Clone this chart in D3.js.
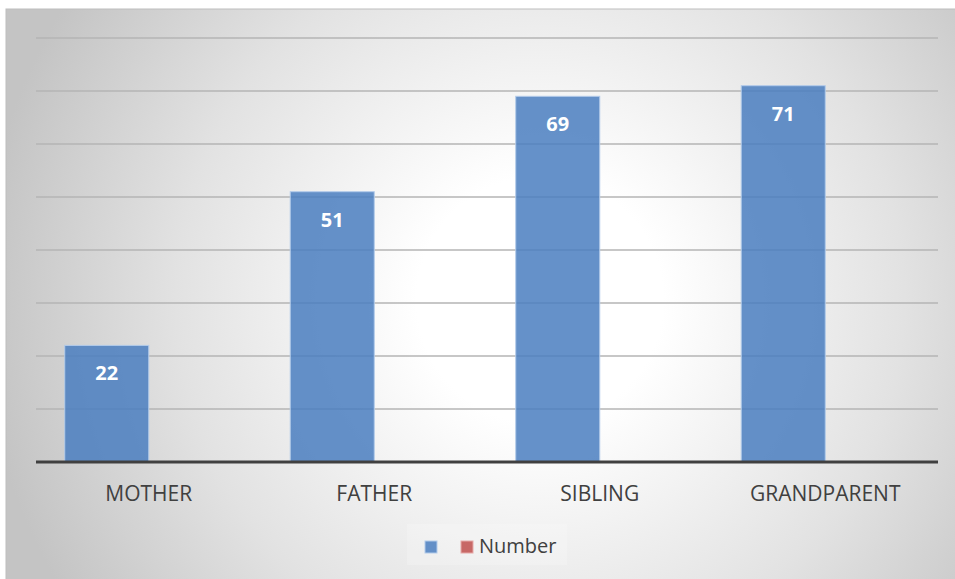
<!DOCTYPE html>
<html>
<head>
<meta charset="utf-8">
<script src="https://cdn.jsdelivr.net/npm/d3@7"></script>
<style>
  html, body { margin: 0; padding: 0; background: #ffffff; }
  svg { display: block; }
  text { font-family: "Open Sans", "Noto Sans", sans-serif; }
</style>
</head>
<body>
<div id="chart"></div>
<script>
const categories = ["MOTHER", "FATHER", "SIBLING", "GRANDPARENT"];
const seriesNames = ["", "Number"];
const seriesBlue = [22, 51, 69, 71];
const seriesNumber = [null, null, null, null];
const yTicks = [0, 10, 20, 30, 40, 50, 60, 70, 80];

const W = 955, H = 579;
const svg = d3.select("#chart").append("svg").attr("width", W).attr("height", H);

// background gradient
const defs = svg.append("defs");
const rg = defs.append("radialGradient").attr("id", "bg")
  .attr("gradientUnits", "userSpaceOnUse")
  .attr("cx", 540).attr("cy", 300).attr("r", 560);
rg.append("stop").attr("offset", 0).attr("stop-color", "#ffffff");
rg.append("stop").attr("offset", 0.22).attr("stop-color", "#ffffff");
rg.append("stop").attr("offset", 0.65).attr("stop-color", "#e2e2e2");
rg.append("stop").attr("offset", 1).attr("stop-color", "#c4c4c4");

svg.append("rect").attr("x", 6).attr("y", 9).attr("width", W).attr("height", H)
  .attr("fill", "url(#bg)").attr("stroke", "#bdbdbd").attr("stroke-width", 1);

const plot = { left: 36, right: 938, top: 38, bottom: 462 };

const y = d3.scaleLinear().domain([0, 80]).range([plot.bottom, plot.top]);
const x0 = d3.scaleBand().domain(categories).range([plot.left, plot.right]).padding(0);
const x1 = d3.scaleBand().domain(seriesNames).range([0, x0.bandwidth()]).paddingInner(0).paddingOuter(0.342);

// gridlines
svg.append("g").selectAll("line").data(yTicks.filter(t => t > 0)).join("line")
  .attr("x1", plot.left).attr("x2", plot.right)
  .attr("y1", d => y(d)).attr("y2", d => y(d))
  .attr("stroke", "#b4b4b4").attr("stroke-width", 1.5);

const colors = ["#4a7ebf", "#c0504d"];
const seriesData = [seriesBlue, seriesNumber];

// bars
seriesData.forEach((vals, si) => {
  svg.append("g").selectAll("rect")
    .data(vals.map((v, i) => ({ v, c: categories[i] })).filter(d => d.v != null))
    .join("rect")
    .attr("x", d => x0(d.c) + x1(seriesNames[si]))
    .attr("y", d => y(d.v))
    .attr("width", x1.bandwidth())
    .attr("height", d => y(0) - y(d.v))
    .attr("fill", colors[si]).attr("fill-opacity", 0.85)
    .attr("stroke", "#b3cbea").attr("stroke-width", 1);
});

// baseline
svg.append("line").attr("x1", plot.left).attr("x2", plot.right)
  .attr("y1", y(0)).attr("y2", y(0))
  .attr("stroke", "#404040").attr("stroke-width", 3);

// data labels
svg.append("g").selectAll("text")
  .data(seriesBlue.map((v, i) => ({ v, c: categories[i] })))
  .join("text")
  .attr("x", d => x0(d.c) + x1(seriesNames[0]) + x1.bandwidth() / 2)
  .attr("y", d => y(d.v) + 35)
  .attr("text-anchor", "middle")
  .attr("font-size", 20).attr("font-weight", "bold").attr("fill", "#ffffff")
  .text(d => d.v);

// category labels
svg.append("g").selectAll("text").data(categories).join("text")
  .attr("x", d => x0(d) + x0.bandwidth() / 2)
  .attr("y", 501)
  .attr("text-anchor", "middle")
  .attr("font-size", 21).attr("fill", "#404040")
  .text(d => d);

// legend
const lg = svg.append("g");
lg.append("rect").attr("x", 407).attr("y", 524).attr("width", 160).attr("height", 41)
  .attr("fill", "#ffffff").attr("fill-opacity", 0.2);
seriesNames.forEach((name, i) => {
  const lx = 425 + i * 36;
  lg.append("rect").attr("x", lx).attr("y", 541).attr("width", 12).attr("height", 12)
    .attr("fill", colors[i]).attr("fill-opacity", 0.85)
    .attr("stroke", i === 0 ? "#b3cbea" : "#e6a9a8").attr("stroke-width", 1);
  if (name) {
    lg.append("text").attr("x", lx + 18).attr("y", 553)
      .attr("font-size", 20).attr("fill", "#404040").text(name);
  }
});
</script>
</body>
</html>
